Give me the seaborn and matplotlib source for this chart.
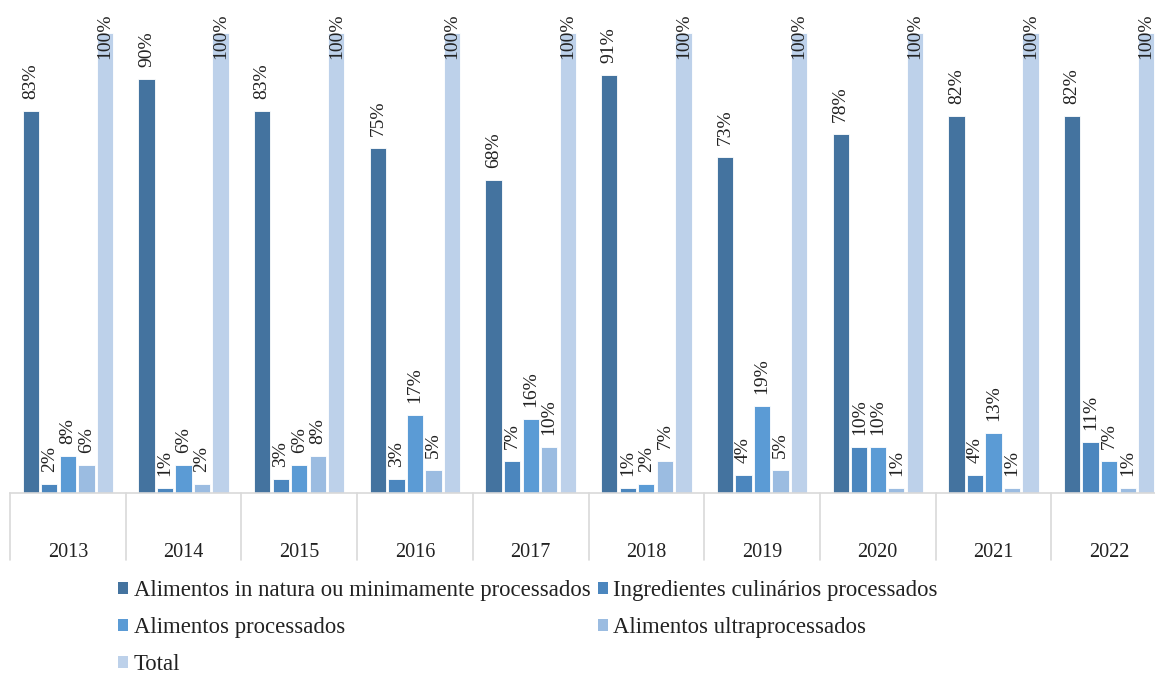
import matplotlib
matplotlib.use("Agg")
import matplotlib.pyplot as plt
import matplotlib.transforms as mtransforms
from matplotlib.patches import Patch
import seaborn as sns
import pandas as pd

years = ["2013", "2014", "2015", "2016", "2017", "2018", "2019", "2020", "2021", "2022"]
series = [
    "Alimentos in natura ou minimamente processados",
    "Ingredientes culinários processados",
    "Alimentos processados",
    "Alimentos ultraprocessados",
    "Total",
]
in_natura = [83, 90, 83, 75, 68, 91, 73, 78, 82, 82]
ingredientes = [2, 1, 3, 3, 7, 1, 4, 10, 4, 11]
processados = [8, 6, 6, 17, 16, 2, 19, 10, 13, 7]
ultraprocessados = [6, 2, 8, 5, 10, 7, 5, 1, 1, 1]
total = [100, 100, 100, 100, 100, 100, 100, 100, 100, 100]
colors = ["#44739F", "#4B86BE", "#5B9BD5", "#9BBCE1", "#BDD1EA"]

values = [in_natura, ingredientes, processados, ultraprocessados, total]
df = pd.DataFrame(
    [(y, s, v) for s, vals in zip(series, values) for y, v in zip(years, vals)],
    columns=["Ano", "Grupo", "Percentual"],
)

sns.set_theme(style="white")
plt.rcParams["font.family"] = ["Liberation Serif", "DejaVu Serif"]

W, H = 1155, 677
fig = plt.figure(figsize=(W / 100, H / 100), dpi=100)
# plot area: baseline at y=493 px, spans x 10..1167 px
ax = fig.add_axes([10 / W, (H - 493) / H, 1157 / W, 493 / H])

sns.barplot(
    data=df, x="Ano", y="Percentual", hue="Grupo", hue_order=series,
    order=years, palette=colors, width=0.8, gap=0.12, saturation=1,
    edgecolor="white", linewidth=0.6, ax=ax,
)
ax.legend_.remove()
ax.set_ylim(0, 107.2)
ax.set_xlim(-0.5, len(years) - 0.5)
ax.set_xlabel("")
ax.set_ylabel("")
ax.set_yticks([])
for side in ["top", "left", "right"]:
    ax.spines[side].set_visible(False)
ax.spines["bottom"].set_color("#D9D9D9")
ax.spines["bottom"].set_linewidth(1.2)
ax.tick_params(axis="x", length=0, pad=36, labelsize=14.5, colors="#222222")

# category separators below the axis
trans = mtransforms.blended_transform_factory(ax.transData, ax.transAxes)
drop = 67 / 493
for i in range(len(years) + 1):
    ax.plot([i - 0.5, i - 0.5], [0, -drop], color="#D9D9D9", lw=1.2,
            transform=trans, clip_on=False)

# value labels, rotated; pushed down when they would leave the figure
top_px = fig.transFigure.transform((0, 1))[1]
for cont in ax.containers:
    for bar in cont:
        h = bar.get_height()
        x = bar.get_x() + bar.get_width() / 2
        label = f"{h:.0f}%"
        y_px = ax.transData.transform((x, h))[1]
        offset = 12
        text_len = 44 if h >= 100 else 35
        if y_px + offset + text_len > top_px - 14:
            offset = (top_px - 15) - text_len - y_px
        ax.annotate(label, xy=(x, h), xytext=(0, offset),
                    textcoords="offset pixels", rotation=90,
                    ha="center", va="bottom", fontsize=14,
                    color="#222222", annotation_clip=False)

handles = [Patch(facecolor=c, edgecolor="none") for c in colors]
order = [0, 2, 4, 1, 3]
fig.legend(
    [handles[i] for i in order], [series[i] for i in order],
    ncol=2, loc="upper left", bbox_to_anchor=(118 / W, 1 - 580 / H),
    frameon=False, fontsize=16.4, handlelength=0.45, handleheight=0.45,
    handletextpad=0.25, columnspacing=0.3, labelspacing=0.7,
    borderaxespad=0, borderpad=0,
)
for t in fig.legends[0].get_texts():
    t.set_color("#222222")

fig.savefig("out.png", dpi=100)
